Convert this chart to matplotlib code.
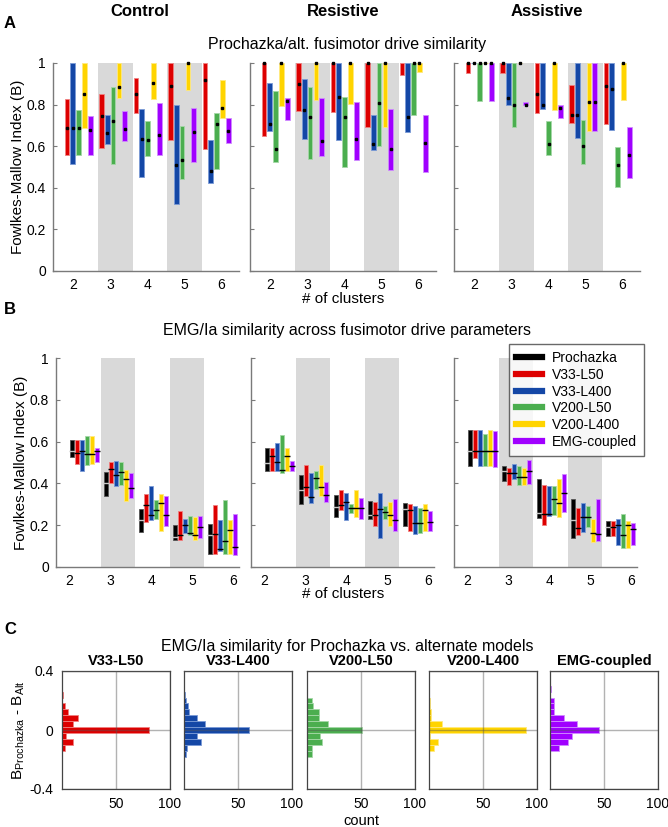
import matplotlib
matplotlib.use('Agg')
import matplotlib.pyplot as plt
import numpy as np
from matplotlib.lines import Line2D

plt.rcParams['font.family'] = ['Liberation Sans', 'DejaVu Sans']
plt.rcParams['mathtext.fontset'] = 'custom'
plt.rcParams['mathtext.rm'] = 'Liberation Sans'

clusters = [2, 3, 4, 5, 6]
models = ['Prochazka', 'V33-L50', 'V33-L400', 'V200-L50', 'V200-L400', 'EMG-coupled']
colors = ['#000000', '#DD0000', '#1447A6', '#4BAE4F', '#FFD400', '#A000FF']
edges = ['#555555', '#F08080', '#7A9AD6', '#A5D8A7', '#FFE97F', '#D08CFF']
conditions = ['Control', 'Resistive', 'Assistive']

# panel A: Prochazka vs alternate models (rows = clusters 2..6, cols = V33-L50 .. EMG-coupled)
a_ctrl_hi = [[0.827, 1.0, 0.772, 1.0, 0.743],
             [0.852, 0.748, 0.883, 1.0, 0.769],
             [0.928, 0.778, 0.722, 1.0, 0.806],
             [1.0, 0.798, 0.698, 1.0, 0.782],
             [1.0, 0.629, 0.762, 0.918, 0.735]]
a_ctrl_lo = [[0.56, 0.514, 0.56, 0.687, 0.56],
             [0.589, 0.61, 0.515, 0.833, 0.624],
             [0.759, 0.451, 0.551, 0.828, 0.56],
             [0.63, 0.321, 0.443, 0.868, 0.522],
             [0.587, 0.424, 0.491, 0.737, 0.613]]
a_ctrl_med = [[0.689, 0.689, 0.689, 0.849, 0.676],
              [0.743, 0.663, 0.719, 0.883, 0.684],
              [0.849, 0.636, 0.632, 0.902, 0.652],
              [0.888, 0.512, 0.535, 1.0, 0.666],
              [0.917, 0.482, 0.708, 0.782, 0.671]]

a_res_hi = [[1.0, 0.905, 0.865, 1.0, 0.830],
            [1.0, 0.922, 0.886, 1.0, 0.832],
            [1.0, 1.0, 0.837, 1.0, 0.813],
            [1.0, 0.751, 1.0, 1.0, 0.779],
            [1.0, 1.0, 1.0, 1.0, 0.749]]
a_res_lo = [[0.651, 0.673, 0.522, 0.795, 0.725],
            [0.770, 0.635, 0.540, 0.824, 0.552],
            [0.765, 0.632, 0.502, 0.802, 0.535],
            [0.690, 0.584, 0.602, 0.690, 0.486],
            [0.943, 0.670, 0.749, 0.959, 0.476]]
a_res_med = [[1.0, 0.706, 0.586, 1.0, 0.819],
             [0.897, 0.773, 0.738, 1.0, 0.627],
             [1.0, 0.835, 0.738, 1.0, 0.633],
             [1.0, 0.611, 0.806, 1.0, 0.586],
             [np.nan, 0.738, 1.0, 1.0, 0.614]]

a_ast_hi = [[1.0, 1.0, 1.0, 1.0, 1.0],
            [1.0, 1.0, 1.0, 1.0, 0.8125],
            [1.0, 1.0, 0.719, 1.0, 0.80],
            [0.894, 1.0, 0.727, 1.0, 1.0],
            [1.0, 1.0, 0.594, 1.0, 0.694]]
a_ast_lo = [[0.953, 1.0, 0.819, 1.0, 0.819],
            [0.95, 0.798, 0.692, 1.0, 0.797],
            [0.759, 0.781, 0.559, 0.773, 0.736],
            [0.711, 0.641, 0.516, 0.672, 0.672],
            [0.705, 0.680, 0.403, 0.822, 0.445]]
a_ast_med = [[1.0, 1.0, 1.0, 1.0, 1.0],
             [1.0, 0.83, 0.80, 1.0, 0.80],
             [0.852, 0.80, 0.611, 1.0, 0.783],
             [0.75, 0.75, 0.602, 0.8125, 0.8125],
             [0.889, 0.875, 0.509, 1.0, 0.559]]

# panel B: EMG/Ia similarity (cols = Prochazka .. EMG-coupled)
b_ctrl_hi = [[0.608, 0.609, 0.609, 0.625, 0.625, 0.571],
             [0.455, 0.502, 0.509, 0.502, 0.466, 0.451],
             [0.279, 0.348, 0.388, 0.319, 0.348, 0.338],
             [0.203, 0.268, 0.228, 0.246, 0.238, 0.244],
             [0.207, 0.298, 0.223, 0.322, 0.226, 0.255]]
b_ctrl_lo = [[0.525, 0.491, 0.461, 0.488, 0.494, 0.504],
             [0.340, 0.402, 0.386, 0.391, 0.316, 0.329],
             [0.167, 0.215, 0.225, 0.228, 0.171, 0.198],
             [0.128, 0.131, 0.161, 0.152, 0.131, 0.137],
             [0.062, 0.062, 0.075, 0.062, 0.062, 0.056]]
b_ctrl_med = [[0.557, 0.545, 0.557, 0.539, 0.539, 0.557],
              [0.402, 0.470, 0.442, 0.455, 0.423, 0.376],
              [0.223, 0.298, 0.247, 0.271, 0.305, 0.247],
              [0.145, 0.152, 0.203, 0.164, 0.152, 0.190],
              [0.152, 0.160, 0.088, 0.124, 0.175, 0.097]]

b_res_hi = [[0.568, 0.568, 0.594, 0.630, 0.568, 0.505],
            [0.438, 0.486, 0.448, 0.460, 0.486, 0.405],
            [0.344, 0.368, 0.352, 0.302, 0.368, 0.329],
            [0.317, 0.310, 0.352, 0.290, 0.310, 0.324],
            [0.308, 0.300, 0.290, 0.283, 0.300, 0.267]]
b_res_lo = [[0.457, 0.457, 0.457, 0.452, 0.457, 0.457],
            [0.303, 0.341, 0.305, 0.371, 0.341, 0.313],
            [0.241, 0.271, 0.224, 0.257, 0.241, 0.232],
            [0.230, 0.194, 0.140, 0.230, 0.194, 0.173],
            [0.195, 0.171, 0.156, 0.162, 0.170, 0.173]]
b_res_med = [[0.497, 0.529, 0.502, 0.462, 0.529, 0.483],
             [0.370, 0.384, 0.335, 0.425, 0.383, 0.344],
             [0.286, 0.297, 0.310, 0.284, 0.284, 0.283],
             [0.249, 0.251, 0.276, 0.263, 0.251, 0.224],
             [0.278, 0.271, 0.210, 0.210, 0.271, 0.216]]

b_ast_hi = [[0.655, 0.655, 0.655, 0.638, 0.655, 0.653],
            [0.483, 0.476, 0.491, 0.483, 0.476, 0.513],
            [0.419, 0.391, 0.386, 0.386, 0.421, 0.446],
            [0.323, 0.283, 0.304, 0.294, 0.231, 0.323],
            [0.220, 0.220, 0.228, 0.252, 0.220, 0.210]]
b_ast_lo = [[0.484, 0.522, 0.484, 0.484, 0.484, 0.478],
            [0.411, 0.392, 0.421, 0.391, 0.394, 0.396],
            [0.233, 0.203, 0.245, 0.250, 0.237, 0.261],
            [0.139, 0.153, 0.168, 0.193, 0.122, 0.125],
            [0.146, 0.146, 0.104, 0.093, 0.093, 0.103]]
b_ast_med = [[0.555, 0.555, 0.555, 0.555, 0.555, 0.555],
             [0.457, 0.451, 0.451, 0.429, 0.432, 0.460],
             [0.259, 0.255, 0.255, 0.323, 0.307, 0.353],
             [0.223, 0.185, 0.241, 0.241, 0.165, 0.157],
             [0.190, 0.190, 0.201, 0.152, 0.203, 0.180]]

# panel C: histogram of B_Prochazka - B_Alt
hist_bins = [-0.16, -0.12, -0.08, -0.04, 0.0, 0.04, 0.08, 0.12, 0.16, 0.20, 0.24, 0.28]
hist_red = [0, 3, 10, 4, 81, 10, 15, 6, 3, 0, 1, 0]
hist_blue = [2, 3, 16, 12, 60, 19, 12, 5, 4, 2, 1, 0]
hist_green = [5, 5, 14, 12, 51, 19, 11, 11, 6, 5, 0, 0]
hist_yellow = [0, 5, 8, 1, 90, 12, 2, 2, 1, 1, 0, 0]
hist_purple = [0, 8, 17, 20, 45, 25, 13, 4, 4, 4, 0, 1]

W, H = 668, 827
fig = plt.figure(figsize=(W / 100, H / 100), dpi=100)


def px_axes(l, t, w, h):
    return fig.add_axes([l / W, 1 - (t + h) / H, w / W, h / H])


def px_text(x, y, s, **kw):
    fig.text(x / W, 1 - y / H, s, ha=kw.pop('ha', 'center'), va=kw.pop('va', 'center'), **kw)


def style_range_axes(ax, first, xlim, ticks):
    ax.set_xlim(xlim)
    ax.set_ylim(0, 1)
    for s in ['top', 'right']:
        ax.spines[s].set_visible(False)
    for s in ['left', 'bottom']:
        ax.spines[s].set_color('#7a7a7a')
        ax.spines[s].set_linewidth(1.0)
    ax.set_yticks(np.arange(0, 1.01, 0.2))
    ax.set_xticks(ticks)
    ax.set_xticklabels([str(k) for k in clusters])
    if first:
        ax.set_yticklabels(['0', '0.2', '0.4', '0.6', '0.8', '1'])
        ax.set_ylabel('Fowlkes-Mallow Index (B)', fontsize=11, labelpad=1)
    else:
        ax.set_yticklabels([])
    ax.tick_params(direction='in', length=3, color='#7a7a7a', labelsize=10, pad=5)
    ax.tick_params(axis='x', length=0, pad=5)


def draw_ranges(ax, hi, lo, med, cols, offsets, width, shade, marker):
    hi, lo, med = np.array(hi), np.array(lo), np.array(med)
    for k in (3, 5):
        ax.axvspan(k + shade[0], k + shade[1], color='#D9D9D9', lw=0, zorder=0)
    for j, ci in enumerate(cols):
        x = np.array(clusters) + offsets[j]
        ax.bar(x, hi[:, j] - lo[:, j], bottom=lo[:, j], width=width, color=colors[ci],
               edgecolor=edges[ci], linewidth=0.6, zorder=2, clip_on=False)
        if marker == 's':
            ax.plot(x, med[:, j], 's', ms=2.1, color='k', zorder=3, clip_on=False)
        else:
            mc = '#c8c8c8' if ci == 0 else 'k'
            ax.plot(x, med[:, j], '_', ms=4, mew=1.0, color=mc, zorder=3, clip_on=False)


# ---- panel A ----
a_data = [(a_ctrl_hi, a_ctrl_lo, a_ctrl_med), (a_res_hi, a_res_lo, a_res_med),
          (a_ast_hi, a_ast_lo, a_ast_med)]
a_offsets = [0, 0.168, 0.336, 0.504, 0.672]
a_ticks = [2.18 + (k - 2) * 1.07 for k in clusters]
for i, left in enumerate([53, 250, 454]):
    ax = px_axes(left, 63, 186, 208)
    draw_ranges(ax, *a_data[i], cols=[1, 2, 3, 4, 5], offsets=a_offsets, width=0.135,
                shade=(-0.09, 0.92), marker='s')
    style_range_axes(ax, i == 0, (1.594, 6.985), a_ticks)

# ---- panel B ----
b_data = [(b_ctrl_hi, b_ctrl_lo, b_ctrl_med), (b_res_hi, b_res_lo, b_res_med),
          (b_ast_hi, b_ast_lo, b_ast_med)]
b_offsets = [0, 0.145, 0.29, 0.435, 0.58, 0.725]
b_ticks = [1.93 + (k - 2) * 1.19 for k in clusters]
for i, left in enumerate([56, 251, 454]):
    ax = px_axes(left, 358, 183, 209)
    draw_ranges(ax, *b_data[i], cols=[0, 1, 2, 3, 4, 5], offsets=b_offsets, width=0.118,
                shade=(-0.145, 0.85), marker='_')
    style_range_axes(ax, i == 0, (1.55, 6.85), b_ticks)

handles = [Line2D([0], [0], color=c, lw=4.5) for c in colors]
fig.legend(handles, models, loc='upper left', bbox_to_anchor=(509 / W, 1 - 344 / H),
           frameon=True, fancybox=False, edgecolor='#444444', fontsize=10,
           handlelength=1.9, handletextpad=0.7, labelspacing=0.2, borderpad=0.5,
           borderaxespad=0)

# ---- panel C ----
hists = [hist_red, hist_blue, hist_green, hist_yellow, hist_purple]
for i, left in enumerate([62, 184, 307, 429, 550]):
    ax = px_axes(left, 671, 108, 118)
    ax.barh(hist_bins, hists[i], height=0.04, color=colors[i + 1], edgecolor=edges[i + 1],
            linewidth=0.6, zorder=1)
    ax.set_xlim(0, 100)
    ax.set_ylim(-0.4, 0.4)
    ax.set_xticks([50, 100])
    ax.set_yticks([-0.4, 0, 0.4])
    ax.grid(True, color='#555555', alpha=0.45, lw=1.0)
    ax.set_axisbelow(False)
    for s in ax.spines.values():
        s.set_color('#444444')
        s.set_linewidth(0.9)
    ax.tick_params(length=0, labelsize=10, pad=6)
    if i == 0:
        ax.set_yticklabels(['-0.4', '0', '0.4'])
        ax.set_ylabel(r'B$_{\rm Prochazka}$ - B$_{\rm Alt}$', fontsize=11, labelpad=2)
    else:
        ax.set_yticklabels([])
    ax.set_title(models[i + 1], fontsize=10.5, fontweight='bold', pad=4)
    if i == 2:
        ax.set_xlabel('count', fontsize=10.5, labelpad=2)

# ---- labels ----
for x, name in zip([140, 343, 547], conditions):
    px_text(x, 11, name, fontsize=12, fontweight='bold')
px_text(4, 23, 'A', fontsize=12, fontweight='bold', ha='left')
px_text(347, 44, 'Prochazka/alt. fusimotor drive similarity', fontsize=11.5)
px_text(343, 299, '# of clusters', fontsize=11)
px_text(4, 309, 'B', fontsize=12, fontweight='bold', ha='left')
px_text(347, 331, 'EMG/Ia similarity across fusimotor drive parameters', fontsize=11.5)
px_text(343, 594, '# of clusters', fontsize=11)
px_text(4, 630, 'C', fontsize=12, fontweight='bold', ha='left')
px_text(347, 646, 'EMG/Ia similarity for Prochazka vs. alternate models', fontsize=11.5)

fig.savefig('out.png', dpi=100)
